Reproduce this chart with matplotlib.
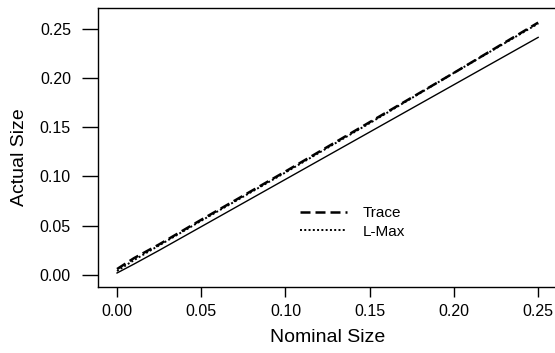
import numpy as np
import matplotlib
matplotlib.use("Agg")
from matplotlib import pyplot as plt

plt.rcParams['font.family'] = ['Liberation Sans', 'DejaVu Sans']

nominal = [0.0, 0.01, 0.025, 0.05, 0.10, 0.15, 0.20, 0.25]
actual_ref = [0.002, 0.011, 0.025, 0.049, 0.097, 0.145, 0.193, 0.241]
trace = [0.006, 0.017, 0.031, 0.056, 0.105, 0.155, 0.205, 0.256]
lmax = [0.004, 0.015, 0.030, 0.055, 0.104, 0.154, 0.205, 0.255]

xticks = [0.0, 0.05, 0.10, 0.15, 0.20, 0.25]
yticks = [0.0, 0.05, 0.10, 0.15, 0.20, 0.25]

fig = plt.figure(figsize=(5.55, 3.53), dpi=100)
ax = fig.add_axes([98/555, 1 - 287/353, 1 - 98/555, (287 - 8)/353])

ax.plot(nominal, actual_ref, color='black', lw=1.0)
ax.plot(nominal, trace, color='black', lw=1.8, ls=(0, (4, 2)), label='Trace')
ax.plot(nominal, lmax, color='black', lw=1.4, ls=(0, (1, 1.2)), label='L-Max')

ax.set_xlim(-0.0113, 0.260)
ax.set_ylim(-0.0122, 0.2708)
ax.set_xticks(xticks)
ax.set_yticks(yticks)
ax.set_xticklabels(['%.2f' % v for v in xticks])
ax.set_yticklabels(['%.2f' % v for v in yticks])

ax.spines['right'].set_visible(False)
for s in ['left', 'top', 'bottom']:
    ax.spines[s].set_linewidth(1.0)
ax.tick_params(axis='y', length=11.5, width=1.0, pad=8, labelsize=11.5)
ax.tick_params(axis='x', length=7.2, width=1.0, pad=5, labelsize=11.5)

ax.set_xlabel('Nominal Size', fontsize=14, labelpad=4)
ax.set_ylabel('Actual Size', fontsize=14, labelpad=6)
ax.xaxis.set_label_coords((328 - 98) / 457, -(338 - 287) / 279)
ax.yaxis.set_label_coords(-(98 - 20) / 457, (287 - 157) / 279)
ax.xaxis.label.set_va('center')
ax.yaxis.label.set_va('center')

ax.legend(loc='upper left', bbox_to_anchor=(0.442, 0.29), frameon=False,
          fontsize=11, handlelength=3.1, handletextpad=1.0, labelspacing=0.3,
          borderaxespad=0, borderpad=0)

fig.savefig('out.png', dpi=100)
